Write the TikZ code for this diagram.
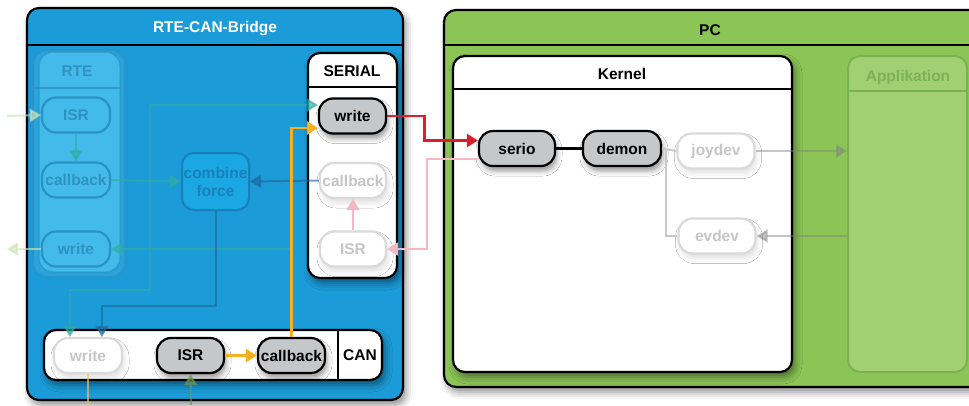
\documentclass[tikz,border=0pt]{standalone}
\usepackage{fontspec}
\setmainfont{Liberation Sans}
\usetikzlibrary{arrows.meta,calc,shadows.blur}

\definecolor{bridgeblue}{RGB}{27,155,215}
\definecolor{pcgreen}{RGB}{139,197,85}
\definecolor{appfill}{RGB}{161,208,114}
\definecolor{appline}{RGB}{122,178,80}
\definecolor{apptext}{RGB}{124,178,86}
\definecolor{nodegray}{RGB}{197,200,203}
\definecolor{ghostline}{RGB}{218,218,218}
\definecolor{ghosttext}{RGB}{198,198,198}
\definecolor{rtefill}{RGB}{66,187,234}
\definecolor{rteback}{RGB}{44,165,220}
\definecolor{rteline}{RGB}{44,146,198}
\definecolor{rtetext}{RGB}{48,146,194}
\definecolor{combfill}{RGB}{26,167,226}
\definecolor{combline}{RGB}{25,128,188}
\definecolor{sigred}{RGB}{218,32,44}
\definecolor{sigpink}{RGB}{243,184,194}
\definecolor{sigorange}{RGB}{247,177,32}
\definecolor{sigteal}{RGB}{48,172,162}
\definecolor{sigpale}{RGB}{205,228,186}
\definecolor{sigdark}{RGB}{32,104,160}
\definecolor{siggray}{RGB}{200,200,200}
\definecolor{sigolive}{RGB}{110,150,80}

\begin{document}
\begin{tikzpicture}[x=1pt,y=-1pt,
  lbl/.style={font=\bfseries\fontsize{15.5}{18}\selectfont},
  frame/.style={draw=black,line width=2.2pt,rounded corners=12pt,inner sep=0pt},
  softshadow/.style={blur shadow={shadow xshift=3pt,shadow yshift=-5pt,shadow blur radius=7pt,shadow opacity=45}},
  unit/.style={lbl,rounded corners=14pt,inner sep=0pt,minimum height=35pt,line width=2.2pt},
  active/.style={unit,draw=black,fill=nodegray,text=black,
    blur shadow={shadow xshift=2pt,shadow yshift=-5pt,shadow blur radius=5pt,shadow opacity=40}},
  ghost/.style={unit,draw=ghostline,fill=white,text=ghosttext,
    blur shadow={shadow xshift=2pt,shadow yshift=-5pt,shadow blur radius=5pt,shadow opacity=12}},
  rtenode/.style={unit,draw=rteline,fill=rtefill,text=rtetext},
  tip/.style={-{Triangle[length=11pt,width=13pt]}},
  wire/.style={line width=2pt},
]
\useasboundingbox (0,0) rectangle (969,405);
\clip (0,0) rectangle (969,405);

% ---------------- RTE-CAN-Bridge ----------------
\node[frame,fill=bridgeblue,minimum width=376pt,minimum height=392pt,softshadow] (bridge) at (215,204) {};
\draw[line width=2.2pt] ([yshift=-38pt]bridge.north west) -- ([yshift=-38pt]bridge.north east);
\node[lbl,text=white] (bridgetitle) at (215,29) {RTE-CAN-Bridge};

% ---------------- PC ----------------
\node[frame,fill=pcgreen,minimum width=541pt,minimum height=377pt,softshadow] (pc) at (714.5,198.5) {};
\draw[line width=2.2pt] ([yshift=-36pt]pc.north west) -- ([yshift=-36pt]pc.north east);
\node[lbl,text=black] (pctitle) at (710,30) {PC};

% Applikation (inactive)
\node[draw=appline,line width=2pt,rounded corners=12pt,fill=appfill,minimum width=119pt,minimum height=316pt,inner sep=0pt] (app) at (907.5,214) {};
\draw[appline,line width=2pt] ([yshift=-36pt]app.north west) -- ([yshift=-36pt]app.north east);
\node[lbl,text=apptext] (apptitle) at (908,77) {Applikation};

% Kernel
\node[frame,fill=white,minimum width=339pt,minimum height=316pt,softshadow] (kernel) at (622.5,214) {};
\draw[line width=2.2pt] ([yshift=-34pt]kernel.north west) -- ([yshift=-34pt]kernel.north east);
\node[lbl,text=black] (kerneltitle) at (622,74) {Kernel};

% ---------------- RTE (inactive) ----------------
\node[draw=rteline,line width=2pt,rounded corners=14pt,fill=rteback,minimum width=92pt,minimum height=227pt,inner sep=0pt,opacity=0.8] (rteback) at (79,163.5) {};
\node[draw=rteline,line width=1.5pt,rounded corners=14pt,fill=rtefill,minimum width=81pt,minimum height=220pt,inner sep=0pt,draw opacity=0.6] (rte) at (79.5,162) {};
\draw[rteline,line width=2pt,opacity=0.8] (33,88) -- (rte.east |- 0,88);
\node[lbl,text=rtetext] (rtetitle) at (77,71) {RTE};

\node[rtenode,minimum width=68pt] (risr) at (76,115) {ISR};
\node[rtenode,minimum width=68pt] (rcb) at (76,180) {callback};
\node[rtenode,minimum width=68pt] (rwrite) at (76,249) {write};

% combine force
\node[lbl,draw=combline,fill=combfill,text=combline,line width=2pt,rounded corners=12pt,
      minimum width=67pt,minimum height=57pt,inner sep=0pt,align=center] (combine) at (215.5,181.5) {combine\\force};

% ---------------- SERIAL ----------------
\node[frame,fill=white,minimum width=89pt,minimum height=225pt,softshadow] (serial) at (352.5,165.5) {};
\draw[line width=2.2pt] ([yshift=-35pt]serial.north west) -- ([yshift=-35pt]serial.north east);
\node[lbl,text=black] (serialtitle) at (352,71) {SERIAL};

\node[active,minimum width=67pt] (swrite) at (352.5,116) {write};
\node[ghost,minimum width=66pt] (scb) at (353,180.5) {callback};
\node[ghost,minimum width=66pt] (sisr) at (353,249) {ISR};

% ---------------- CAN ----------------
\node[frame,fill=white,minimum width=338pt,minimum height=50pt,softshadow] (can) at (213,355) {};
\draw[line width=2.2pt] (338,330) -- (338,380);
\node[lbl,text=black] (cantitle) at (360,355) {CAN};

\node[ghost,minimum width=68pt] (cwrite) at (88,355.5) {write};
\node[active,minimum width=67pt] (cisr) at (190.5,355.5) {ISR};
\node[active,minimum width=67pt] (ccb) at (291.5,355.5) {callback};

% ---------------- kernel nodes ----------------
\node[active,minimum width=76pt] (serio) at (517,148.5) {serio};
\node[active,minimum width=78pt] (demon) at (622,148.5) {demon};
\node[ghost,minimum width=77pt] (joydev) at (716,151) {joydev};
\node[ghost,minimum width=77pt] (evdev) at (717,236) {evdev};

% ---------------- faint connectors ----------------
\coordinate (rtein) at (7,116);
\coordinate (rteout) at (7,249);
\coordinate (tj) at (150,180);
\coordinate (candown) at (88,405);
\coordinate (canup) at (191,405);
\coordinate (kj) at (666,150);

\begin{scope}[wire,opacity=0.65]
  \draw[sigpale,tip] (rtein) -- (risr.west);
  \draw[sigpale,tip] (rwrite.west) -- (rteout);
  \draw[sigteal,tip] (risr.south) -- (rcb.north);
  \draw[sigteal,tip] (rcb.east) -- (combine.west);
  \draw[sigteal,tip] (tj) |- ([yshift=11pt]swrite.west);
  \draw[sigteal,tip] (tj) |- (100,290) -| ([xshift=-18pt]cwrite.north);
  \draw[sigteal,tip] (ccb.north) |- (rwrite.east);
  \draw[sigdark,tip] (scb.west) -- (combine.east);
  \draw[sigdark,tip] (combine.south) |- ([xshift=14pt,yshift=31pt]cwrite.north) -- ([xshift=14pt]cwrite.north);
  \draw[sigorange!70] (cwrite.south) -- (candown);
  \draw[sigolive,tip] (canup) -- (cisr.south);
\end{scope}
\draw[sigpink,wire,tip] (sisr.north) -- (scb.south);
\draw[sigpink,wire,tip] ([yshift=-10pt]serio.west) -| ($(sisr.east)+(40,0)$) -- (sisr.east);

\draw[siggray,wire] (demon.east) -- (joydev.west);
\draw[siggray,wire] (kj) |- (evdev.west);
\draw[gray,wire,opacity=0.45,tip] (joydev.east) -- (app.west |- joydev.east);
\draw[gray,wire,opacity=0.45,tip] (app.west |- evdev.east) -- (evdev.east);

% ---------------- active connectors ----------------
\draw[black,line width=2.2pt] (serio.east) -- (demon.west);
\draw[sigorange,line width=2.5pt,tip] (cisr.east) -- (ccb.west);
\draw[sigorange,line width=2.5pt,tip] (ccb.north) |- ([yshift=-12pt]swrite.west);
\draw[sigred,line width=2.8pt,tip] (swrite.east) -- ++(37,0) |- ([yshift=8pt]serio.west);

\end{tikzpicture}
\end{document}
